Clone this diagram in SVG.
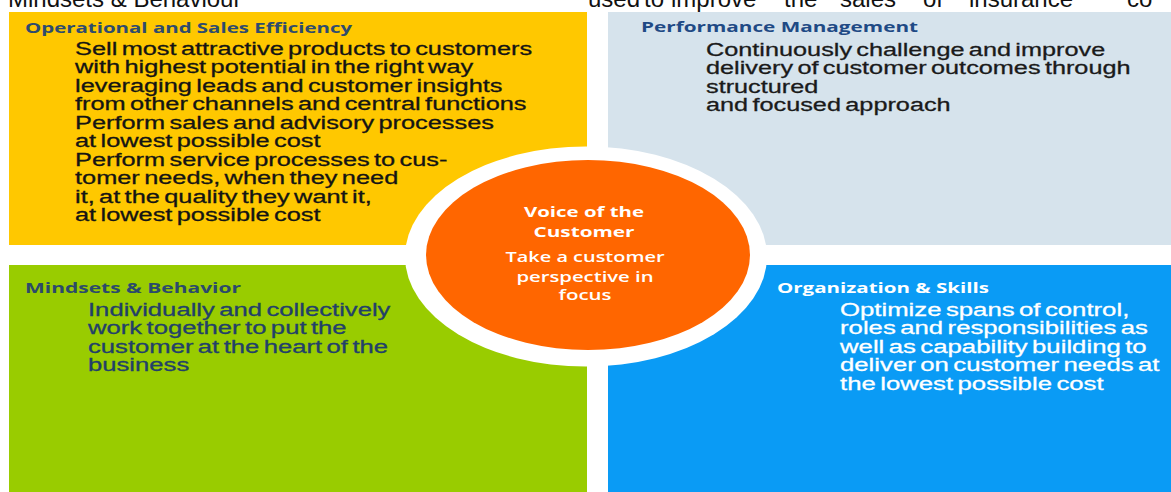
<svg xmlns="http://www.w3.org/2000/svg" width="1171" height="492" viewBox="0 0 1171 492">
  <style>
    .top { font-family: "Liberation Sans", Arial, sans-serif; font-size: 24px; fill: #111111; }
    .head { font-family: "Open Sans", "Lato", sans-serif; font-weight: 700; font-size: 14px; }
    .body { font-family: "Liberation Sans", Arial, sans-serif; font-size: 19px; word-spacing: -2px; stroke-width: 0.3px; }
    .circ { font-family: "Open Sans", "Lato", sans-serif; font-size: 14.5px; fill: #ffffff; text-anchor: middle; }
  </style>
  <rect width="1171" height="492" fill="#ffffff"/>

  <g id="top-text">
    <text class="top" x="8" y="7">Mindsets &amp; Behaviour</text>
    <text class="top" y="7"><tspan x="588">used</tspan><tspan x="644">to</tspan><tspan x="671">improve</tspan><tspan x="784">the</tspan><tspan x="840">sales</tspan><tspan x="923">of</tspan><tspan x="969">insurance</tspan><tspan x="1127">co</tspan></text>
  </g>

  <g id="panel-operational">
    <rect x="9" y="12" width="578" height="233" fill="#FFC800"/>
    <text class="head" x="25" y="33" fill="#2E4B6E" textLength="327" lengthAdjust="spacingAndGlyphs">Operational and Sales Efficiency</text>
    <text class="body" fill="#141414" stroke="#141414" transform="translate(75 55) scale(1.335 1)">
      <tspan x="0" y="0">Sell most attractive products to customers</tspan>
      <tspan x="0" y="18.5">with highest potential in the right way</tspan>
      <tspan x="0" y="37">leveraging leads and customer insights</tspan>
      <tspan x="0" y="55.5">from other channels and central functions</tspan>
      <tspan x="0" y="74">Perform sales and advisory processes</tspan>
      <tspan x="0" y="92.5">at lowest possible cost</tspan>
      <tspan x="0" y="111">Perform service processes to cus-</tspan>
      <tspan x="0" y="129.5">tomer needs, when they need</tspan>
      <tspan x="0" y="148">it, at the quality they want it,</tspan>
      <tspan x="0" y="166.5">at lowest possible cost</tspan>
    </text>
  </g>

  <g id="panel-performance">
    <rect x="608" y="12" width="563" height="233" fill="#D6E3EC"/>
    <text class="head" x="641" y="32" fill="#1F4A85" textLength="277" lengthAdjust="spacingAndGlyphs">Performance Management</text>
    <text class="body" fill="#1a1a1a" stroke="#1a1a1a" transform="translate(706 56) scale(1.33 1)">
      <tspan x="0" y="0">Continuously challenge and improve</tspan>
      <tspan x="0" y="18.5">delivery of customer outcomes through</tspan>
      <tspan x="0" y="37">structured</tspan>
      <tspan x="0" y="55.5">and focused approach</tspan>
    </text>
  </g>

  <g id="panel-mindsets">
    <rect x="9" y="265" width="578" height="227" fill="#99CC00"/>
    <text class="head" x="25" y="293" fill="#2B4A6B" textLength="216" lengthAdjust="spacingAndGlyphs">Mindsets &amp; Behavior</text>
    <text class="body" fill="#22406A" stroke="#22406A" transform="translate(88 316) scale(1.35 1)">
      <tspan x="0" y="0">Individually and collectively</tspan>
      <tspan x="0" y="18.5">work together to put the</tspan>
      <tspan x="0" y="37">customer at the heart of the</tspan>
      <tspan x="0" y="55.5">business</tspan>
    </text>
  </g>

  <g id="panel-organization">
    <rect x="608" y="265" width="563" height="227" fill="#0A9BF5"/>
    <text class="head" x="777" y="293" fill="#ffffff" textLength="212" lengthAdjust="spacingAndGlyphs">Organization &amp; Skills</text>
    <text class="body" fill="#ffffff" stroke="#ffffff" transform="translate(840 316) scale(1.355 1)">
      <tspan x="0" y="0">Optimize spans of control,</tspan>
      <tspan x="0" y="18.5">roles and responsibilities as</tspan>
      <tspan x="0" y="37">well as capability building to</tspan>
      <tspan x="0" y="55.5">deliver on customer needs at</tspan>
      <tspan x="0" y="74">the lowest possible cost</tspan>
    </text>
  </g>

  <g id="center-voice">
    <ellipse cx="586" cy="256.5" rx="181" ry="110" fill="#ffffff"/>
    <ellipse cx="588" cy="255" rx="162" ry="95" fill="#FF6600"/>
    <text class="circ" x="584" y="217" font-weight="700" textLength="120" lengthAdjust="spacingAndGlyphs">Voice of the</text>
    <text class="circ" x="584" y="237" font-weight="700" textLength="101" lengthAdjust="spacingAndGlyphs">Customer</text>
    <text class="circ" x="585" y="262" font-weight="600" textLength="159" lengthAdjust="spacingAndGlyphs">Take a customer</text>
    <text class="circ" x="585" y="282" font-weight="600" textLength="137" lengthAdjust="spacingAndGlyphs">perspective in</text>
    <text class="circ" x="585" y="300" font-weight="600" textLength="53" lengthAdjust="spacingAndGlyphs">focus</text>
  </g>

  <g id="connectors"/>
</svg>
